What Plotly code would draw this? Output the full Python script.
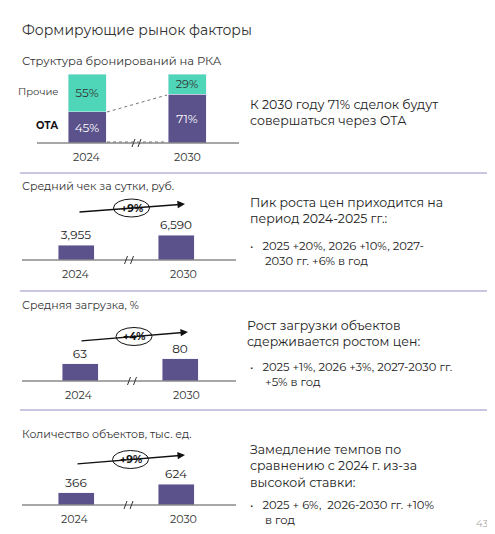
import plotly.graph_objects as go

W, H = 495, 534
years = ["2024", "2030"]
ota_share = [45, 71]
other_share = [55, 29]
avg_check = [3955, 6590]
occupancy = [63, 80]
objects_k = [366, 624]

PURPLE = "#5b528c"
TEAL = "#4fd6b9"
GREY = "#8a8a8a"
FONT = "Montserrat, Open Sans, sans-serif"


def px(x):
    return x / W


def py(y):
    return 1 - y / H


fig = go.Figure()

# panel axes: (x0, x1, baseline, top, ymax)
panels = [
    (30, 230, 135, 66, 100),
    (19, 219, 252, 192, 15816),
    (23, 223, 373, 313, 218),
    (19, 219, 497, 437, 1783),
]
for i, (x0, x1, yb, yt, ymax) in enumerate(panels):
    n = "" if i == 0 else str(i + 1)
    fig.update_layout({
        f"xaxis{n}": dict(domain=[px(x0), px(x1)], range=[-0.49, 1.51], visible=False,
                          anchor=f"y{n}"),
        f"yaxis{n}": dict(domain=[py(yb), py(yt)], range=[0, ymax], visible=False,
                          anchor=f"x{n}"),
    })

xs = [0, 1]
fig.add_bar(x=xs, y=ota_share, marker_color=PURPLE, width=0.38, xaxis="x", yaxis="y",
            text=[f"{v}%" for v in ota_share], textposition="inside", insidetextanchor="middle",
            textfont=dict(color="white", size=12, family=FONT))
fig.add_bar(x=xs, y=other_share, marker_color=TEAL, width=0.38, xaxis="x", yaxis="y",
            text=[f"{v}%" for v in other_share], textposition="inside", insidetextanchor="middle",
            textfont=dict(color="#333", size=12, family=FONT))
for k, vals in zip(["2", "3", "4"], [avg_check, occupancy, objects_k]):
    fig.add_bar(x=xs, y=vals, marker_color=PURPLE, width=0.36, xaxis="x" + k, yaxis="y" + k,
                text=[f"{v:,}" for v in vals], textposition="outside", cliponaxis=False,
                textfont=dict(color="#222", size=12, family=FONT))

shapes = []
ann = []


def text(x, y, s, size=11, color="#333", anchor="left", bold=False, yanchor="middle"):
    if bold:
        s = f"<b>{s}</b>"
    ann.append(dict(x=px(x), y=py(y), xref="paper", yref="paper", text=s, showarrow=False,
                    xanchor=anchor, yanchor=yanchor, align="left",
                    font=dict(size=size, color=color, family=FONT)))


def line(x0, y0, x1, y1, color=GREY, width=1.5, dash="solid"):
    shapes.append(dict(type="line", xref="paper", yref="paper", x0=px(x0), y0=py(y0),
                       x1=px(x1), y1=py(y1), line=dict(color=color, width=width, dash=dash)))


text(12, 22, "Формирующие рынок факторы", size=14)
text(12, 53, "Структура бронирований на РКА", size=11.5)
text(8, 84, "Прочие", size=10)
text(26, 118, "ОТА", size=10, color="#111", bold=True)

# baselines, years, break marks
for (x0, x1, yb, yt, ymax), c in zip(panels, [(79, 179), (68, 175), (71, 178), (67, 175)]):
    line(x0 - 1 if x0 > 25 else 14, yb, x1 + 1 if x1 > 225 else 228, yb, width=1.5)
    for cx, yr in zip(c, years):
        text(cx, yb + 14, yr, size=11, anchor="center")
    m = (c[0] + c[1]) / 2
    line(m - 5, yb + 4, m - 2, yb - 4, color="#333", width=1)
    line(m + 1, yb + 4, m + 4, yb - 4, color="#333", width=1)

# dotted connectors panel 1
line(99, 104, 159, 87, color="#777", width=1, dash="dot")
line(99, 134, 159, 134, color="#777", width=1, dash="dot")

# separators
for yy in [165, 283, 402]:
    line(12, yy, 485, yy, color="#b8b3d9", width=1.5)

# growth arrows with ellipses
for (ax0, ay0, ax1, ay1, lab) in [(70, 204, 177, 196, "+9%"),
                                   (72, 333, 180, 324, "+4%"),
                                   (68, 456, 177, 447, "+9%")]:
    ann.append(dict(x=px(ax1), y=py(ay1), ax=ax0 - ax1, ay=ay0 - ay1, xref="paper",
                    yref="paper", axref="pixel", ayref="pixel", showarrow=True, arrowhead=2,
                    arrowsize=1, arrowwidth=1.5, arrowcolor="#111", text=""))
    cx, cy = (ax0 + ax1) / 2, (ay0 + ay1) / 2
    shapes.append(dict(type="circle", xref="paper", yref="paper", x0=px(cx - 18), x1=px(cx + 18),
                       y0=py(cy - 9), y1=py(cy + 9), fillcolor="white",
                       line=dict(color="#111", width=1)))
    text(cx, cy, lab, size=10.5, color="#111", anchor="center", bold=True)

text(12, 178, "Средний чек за сутки, руб.", size=11)
text(12, 297, "Средняя загрузка, %", size=11)
text(12, 426, "Количество объектов, тыс. ед.", size=11)

text(240, 104, "К 2030 году 71% сделок будут<br>совершаться через ОТА", size=12.5, color="#222")
text(240, 203, "Пик роста цен приходится на<br>период 2024-2025 гг.:", size=12.5, color="#222")
text(240, 245, "•   2025 +20%, 2026 +10%, 2027-<br>     2030 гг. +6% в год", size=11.5, color="#222")
text(237, 325, "Рост загрузки объектов<br>сдерживается ростом цен:", size=12.5, color="#222")
text(240, 366, "•   2025 +1%, 2026 +3%, 2027-2030 гг.<br>     +5% в год", size=11.5, color="#222")
text(240, 458, "Замедление темпов по<br>сравнению с 2024 г. из-за<br>высокой ставки:",
     size=12.5, color="#222")
text(240, 504, "•   2025 + 6%,  2026-2030 гг. +10%<br>     в год", size=11.5, color="#222")
text(482, 515, "43", size=10, color="#aaa", anchor="right")

fig.update_layout(width=W, height=H, margin=dict(l=0, r=0, t=0, b=0), barmode="stack",
                  showlegend=False, plot_bgcolor="white", paper_bgcolor="white",
                  shapes=shapes, annotations=ann, font=dict(family=FONT))
fig.write_html("out.html")
